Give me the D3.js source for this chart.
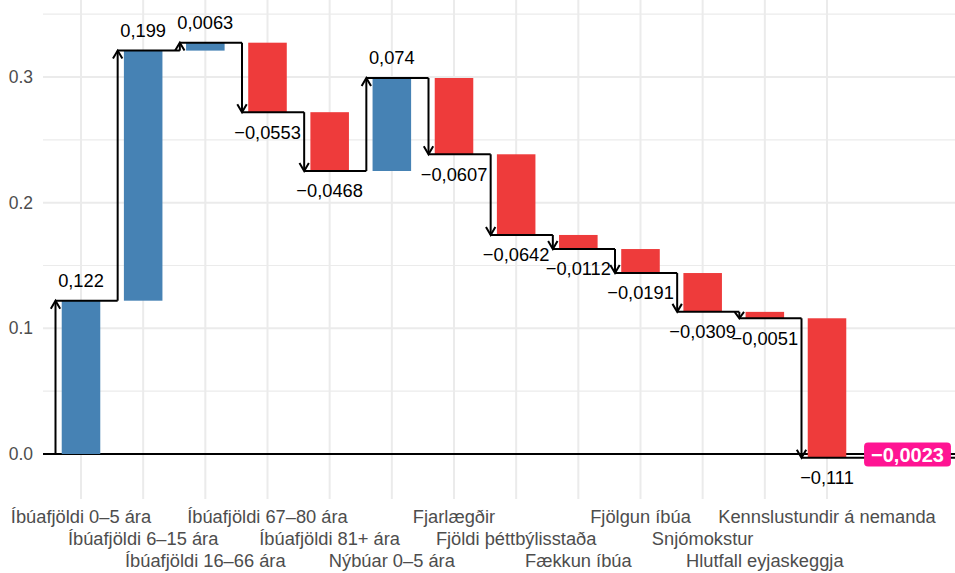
<!DOCTYPE html>
<html>
<head>
<meta charset="utf-8">
<script src="https://cdn.jsdelivr.net/npm/d3@7"></script>
<style>
  html, body { margin: 0; padding: 0; background: #fff; }
  svg { display: block; font-family: "Liberation Sans", Arial, Helvetica, sans-serif; }
</style>
</head>
<body>
<svg id="chart" width="955" height="573"></svg>
<script>
const categories = [
  "Íbúafjöldi 0–5 ára", "Íbúafjöldi 6–15 ára", "Íbúafjöldi 16–66 ára",
  "Íbúafjöldi 67–80 ára", "Íbúafjöldi 81+ ára", "Nýbúar 0–5 ára",
  "Fjarlægðir", "Fjöldi þéttbýlisstaða", "Fækkun íbúa", "Fjölgun íbúa",
  "Snjómokstur", "Hlutfall eyjaskeggja", "Kennslustundir á nemanda"
];
const values = [0.122, 0.199, 0.0063, -0.0553, -0.0468, 0.074, -0.0607,
                -0.0642, -0.0112, -0.0191, -0.0309, -0.0051, -0.111];
const totalValue = -0.0023;
const yTicks = [0, 0.1, 0.2, 0.3];
const yMinorTicks = [0.05, 0.15, 0.25, 0.35];

const W = 955, H = 573;
const panel = { left: 43, right: 955, top: 0, bottom: 499 };
const svg = d3.select("#chart");

const x = d3.scalePoint().domain(categories).range([81, 827]);
const step = x.step();
const barW = step * 0.62;
const y = d3.scaleLinear().domain([0, 0.3]).range([454, 77]);

const loc = d3.formatLocale({ decimal: ",", thousands: ".", grouping: [3], currency: ["", ""], minus: "\u2212" });
const fmt = loc.format(".3~g");

// cumulative
let cum = 0;
const steps = values.map((v, i) => {
  const start = cum; cum += v;
  return { cat: categories[i], v, start, end: cum };
});

// grid
const g = svg.append("g");
g.selectAll(".minor").data(yMinorTicks).join("line")
  .attr("x1", panel.left).attr("x2", panel.right)
  .attr("y1", d => y(d)).attr("y2", d => y(d))
  .attr("stroke", "#EBEBEB").attr("stroke-width", 1.1);
g.selectAll(".major").data(yTicks).join("line")
  .attr("x1", panel.left).attr("x2", panel.right)
  .attr("y1", d => y(d)).attr("y2", d => y(d))
  .attr("stroke", "#EBEBEB").attr("stroke-width", 2);
g.selectAll(".vx").data(categories).join("line")
  .attr("x1", d => x(d)).attr("x2", d => x(d))
  .attr("y1", panel.top).attr("y2", panel.bottom)
  .attr("stroke", "#EBEBEB").attr("stroke-width", 2);

// y tick labels
svg.append("g").selectAll("text").data(yTicks).join("text")
  .attr("x", 33).attr("y", d => y(d)).attr("dy", "0.35em")
  .attr("text-anchor", "end").attr("fill", "#4D4D4D").attr("font-size", 17.5)
  .text(d => d3.format(".1f")(d));

// x tick labels (staggered in 3 rows)
const rowY = [523, 545, 567];
svg.append("g").selectAll("text").data(categories).join("text")
  .attr("x", d => x(d)).attr("y", (d, i) => rowY[i % 3])
  .attr("text-anchor", "middle").attr("fill", "#4D4D4D").attr("font-size", 18.3)
  .text(d => d);

// baseline
svg.append("line")
  .attr("x1", panel.left).attr("x2", panel.right)
  .attr("y1", y(0)).attr("y2", y(0))
  .attr("stroke", "#000").attr("stroke-width", 2);

// bars
svg.append("g").selectAll("rect").data(steps).join("rect")
  .attr("x", d => x(d.cat) - barW / 2).attr("width", barW)
  .attr("y", d => y(Math.max(d.start, d.end)))
  .attr("height", d => Math.abs(y(d.start) - y(d.end)))
  .attr("fill", d => d.v >= 0 ? "#4682B4" : "#EE3B3B");

// connectors and arrows
const ax = d => x(d.cat) - 25.5;
const conn = svg.append("g").attr("fill", "none").attr("stroke", "#000")
  .attr("stroke-width", 2).attr("stroke-linejoin", "miter");
steps.forEach((d, i) => {
  const xa = ax(d);
  const y0 = y(d.start), y1 = y(d.end);
  conn.append("line").attr("x1", xa).attr("x2", xa).attr("y1", y0).attr("y2", y1);
  const dir = y1 < y0 ? 1 : -1;
  const hl = Math.min(8, Math.abs(y1 - y0));
  conn.append("path").attr("d",
    `M${xa - 4.7},${y1 + dir * hl}L${xa},${y1}L${xa + 4.7},${y1 + dir * hl}`);
  const xNext = i < steps.length - 1 ? ax(steps[i + 1]) : panel.right;
  conn.append("line").attr("x1", xa).attr("x2", xNext).attr("y1", y1).attr("y2", y1);
});

// value labels
svg.append("g").selectAll("text").data(steps).join("text")
  .attr("x", d => x(d.cat))
  .attr("y", d => y(d.end) + (d.v >= 0 ? -20 : 20))
  .attr("dy", "0.35em").attr("text-anchor", "middle")
  .attr("font-size", 18.3).attr("fill", "#000")
  .text(d => fmt(d.v));

// total label
const tx = 907.5, ty = y(totalValue) - 2.5;
const tg = svg.append("g");
const ttext = tg.append("text")
  .attr("x", tx).attr("y", ty).attr("dy", "0.36em")
  .attr("text-anchor", "middle").attr("font-size", 20).attr("font-weight", "bold")
  .attr("fill", "#fff").text(loc.format(".2~g")(totalValue));
const bb = ttext.node().getBBox();
tg.insert("rect", "text")
  .attr("x", bb.x - 7).attr("y", ty - 12)
  .attr("width", bb.width + 14).attr("height", 24)
  .attr("rx", 4).attr("fill", "#FF1493");
</script>
</body>
</html>
